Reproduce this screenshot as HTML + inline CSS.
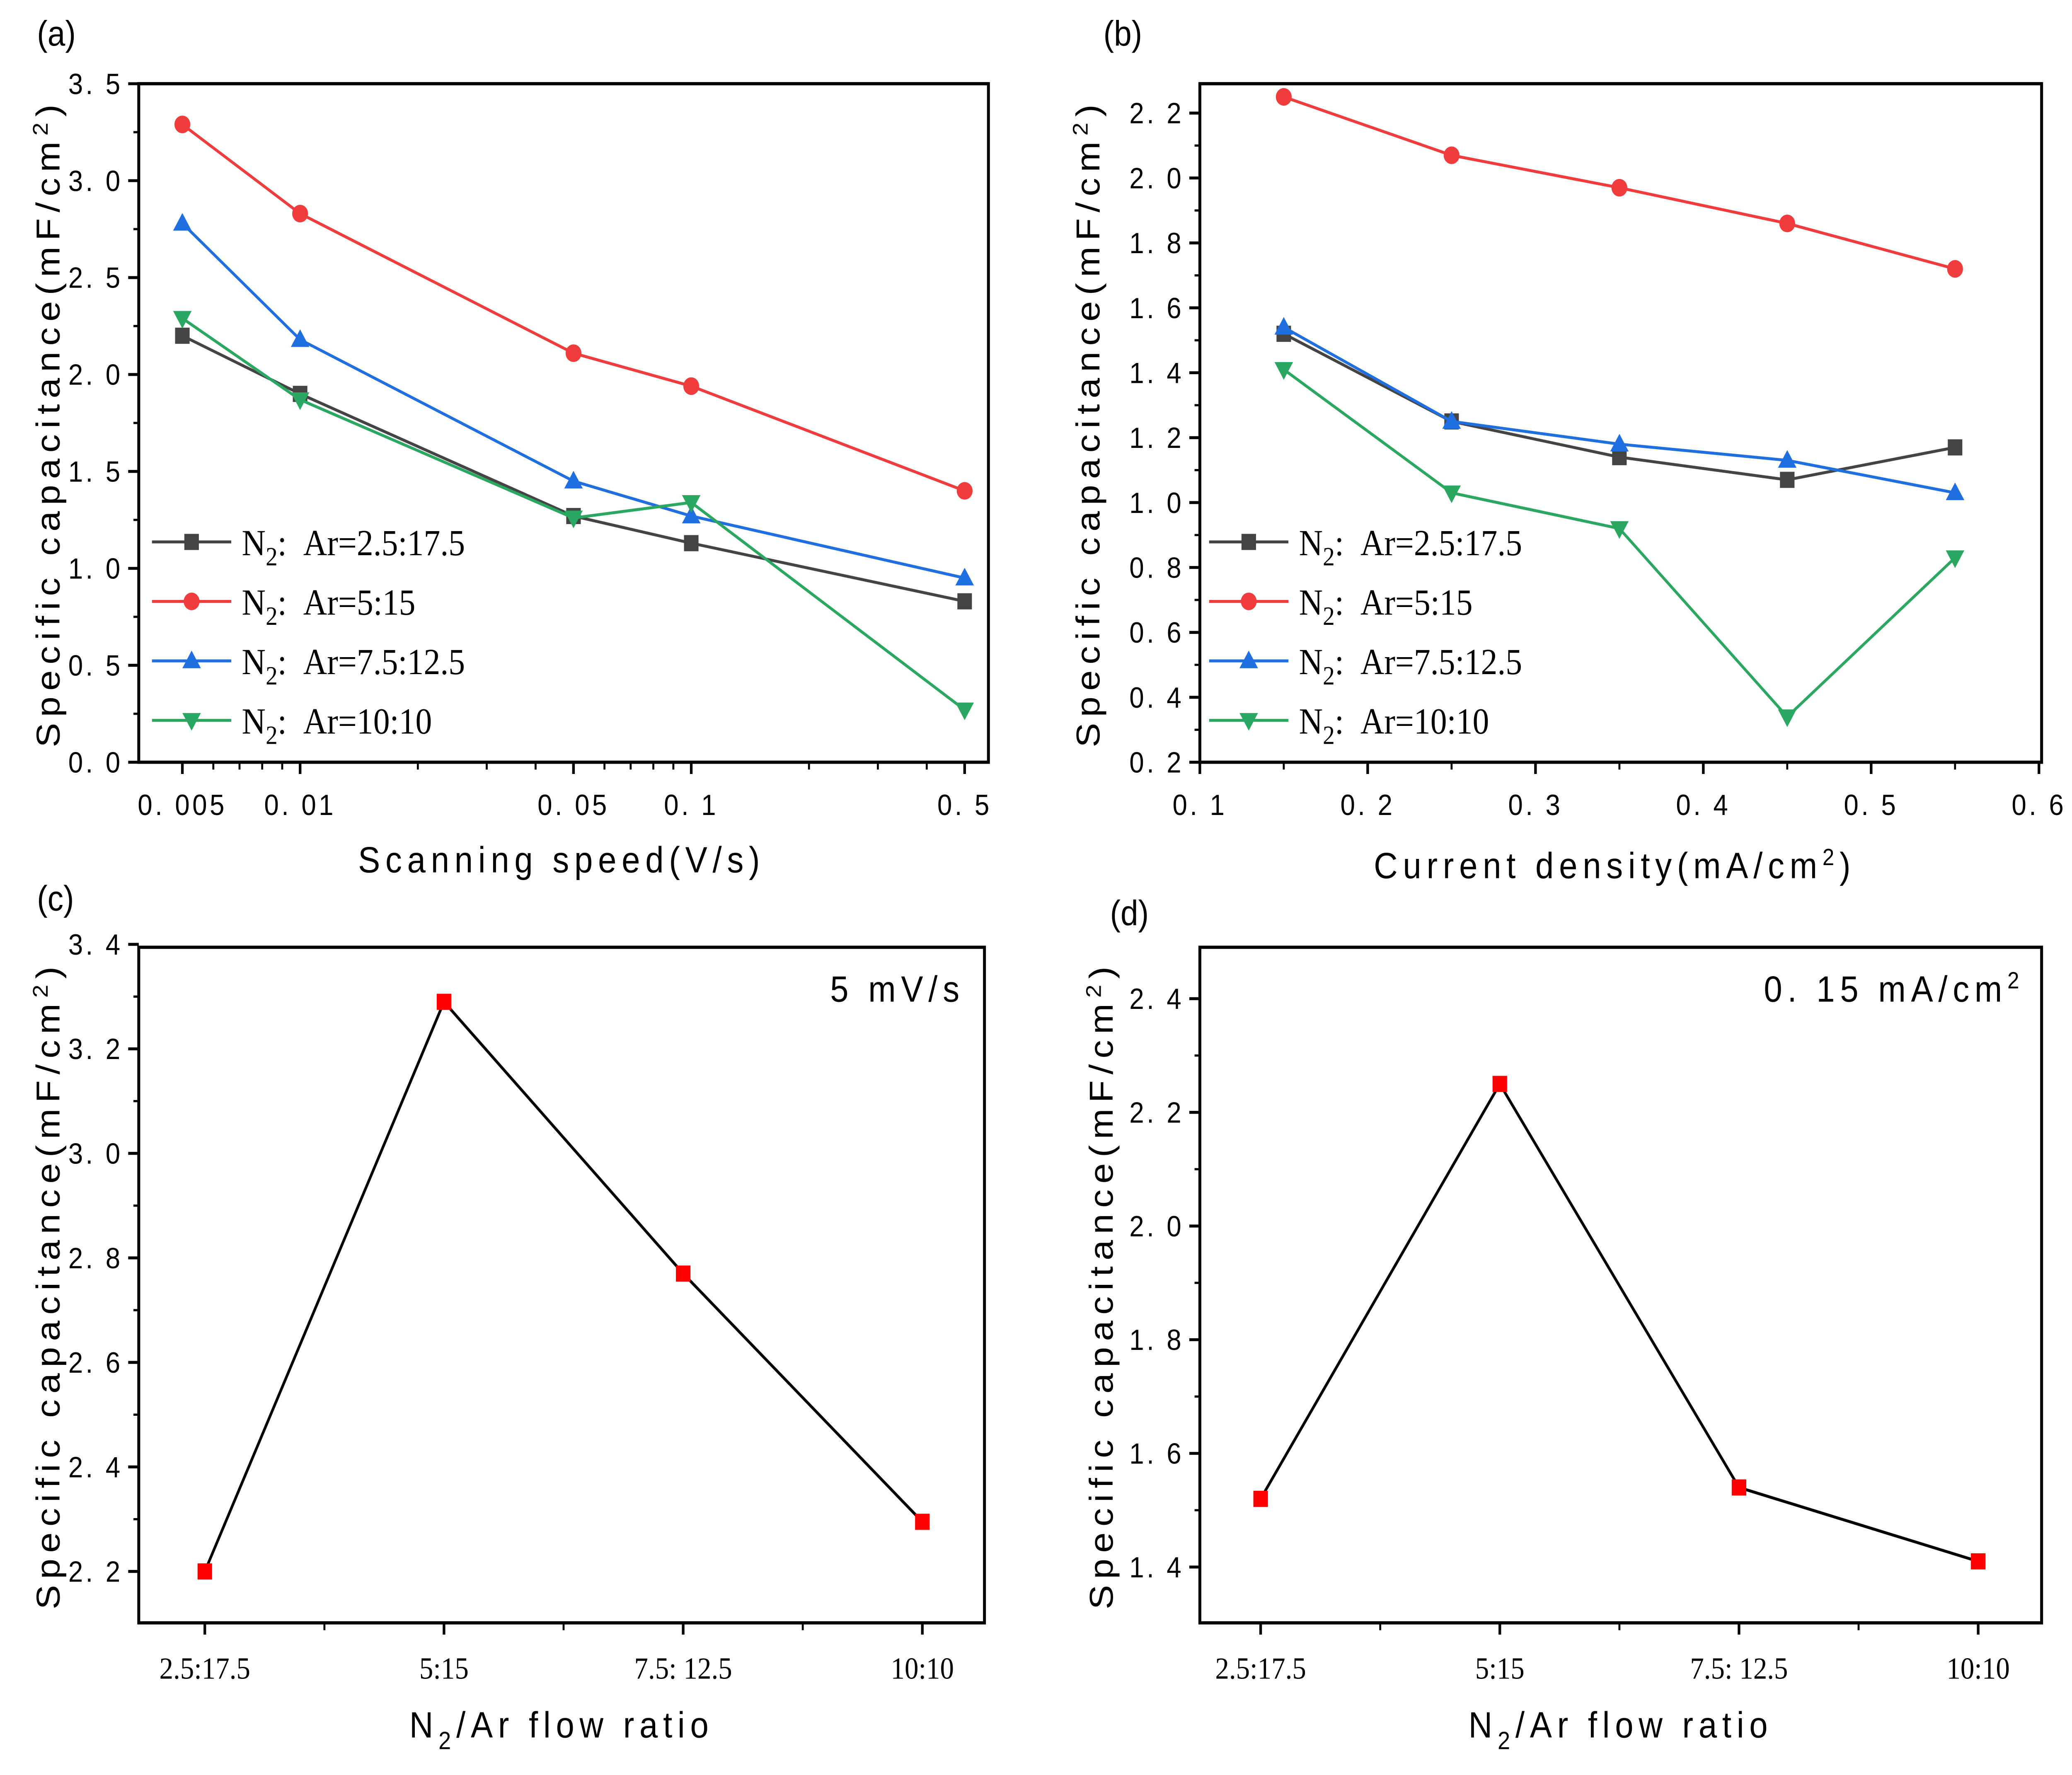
<!DOCTYPE html>
<html><head><meta charset="utf-8"><style>
html,body{margin:0;padding:0;background:#fff;width:100%;height:100%;overflow:hidden}
svg{display:block;width:100vw;height:100vh}
text{font-family:"Liberation Sans","Noto Sans CJK SC",sans-serif;fill:#000}
.tk{font-size:20px;letter-spacing:2px}
.ti{font-size:25px;letter-spacing:4px}
.lg{font-family:"Liberation Serif","Noto Serif CJK SC",serif;font-size:25px}
.pl{font-size:24px}
</style></head><body>
<svg id="fig" viewBox="0 0 1568 1208.6" preserveAspectRatio="none" xmlns="http://www.w3.org/2000/svg"></svg>
<script>
const NS="http://www.w3.org/2000/svg";
const svg=document.getElementById('fig');
// panel (a)
const aX=[0.005,0.01,0.05,0.1,0.5];
const aBlack=[2.2,1.9,1.27,1.13,0.83];
const aRed=[3.29,2.83,2.11,1.94,1.40];
const aBlue=[2.78,2.18,1.45,1.27,0.95];
const aGreen=[2.29,1.87,1.26,1.34,0.27];
const aXTicks=[0.005,0.01,0.05,0.1,0.5];
const aXTickLabels=["0. 005","0. 01","0. 05","0. 1","0. 5"];
const aYTicks=[0,0.5,1,1.5,2,2.5,3,3.5];
// panel (b)
const bX=[0.15,0.25,0.35,0.45,0.55];
const bBlack=[1.52,1.25,1.14,1.07,1.17];
const bRed=[2.25,2.07,1.97,1.86,1.72];
const bBlue=[1.54,1.25,1.18,1.13,1.03];
const bGreen=[1.41,1.03,0.92,0.34,0.83];
const bXTicks=[0.1,0.2,0.3,0.4,0.5,0.6];
const bYTicks=[0.2,0.4,0.6,0.8,1.0,1.2,1.4,1.6,1.8,2.0,2.2];
// panel (c)
const cCats=["2.5:17.5","5:15","7.5: 12.5","10:10"];
const cVals=[2.2,3.29,2.77,2.295];
const cYTicks=[2.2,2.4,2.6,2.8,3.0,3.2,3.4];
// panel (d)
const dCats=["2.5:17.5","5:15","7.5: 12.5","10:10"];
const dVals=[1.52,2.25,1.54,1.41];
const dYTicks=[1.4,1.6,1.8,2.0,2.2,2.4];
const legendLabels=["Ar=2.5:17.5","Ar=5:15","Ar=7.5:12.5","Ar=10:10"];

function el(tag,attrs,parent){const e=document.createElementNS(NS,tag);for(const k in attrs)e.setAttribute(k,attrs[k]);(parent||svg).appendChild(e);return e;}
function txt(s,x,y,cls,anchor,parent){const t=el('text',{x:x,y:y,class:cls,'text-anchor':anchor||'middle'},parent);t.textContent=s;return t;}
function lin(a0,a1,p0,p1){return v=>p0+(v-a0)/(a1-a0)*(p1-p0);}

function marker(g,type,x,y,c){
  let m;
  if(type==='sq') m=el('rect',{x:x-5.5,y:y-5.5,width:11,height:11,fill:c},g);
  else if(type==='ci') m=el('circle',{cx:x,cy:y,r:6,fill:c},g);
  else if(type==='up') m=el('polygon',{points:`${x},${y-7} ${x-7},${y+5} ${x+7},${y+5}`,fill:c},g);
  else m=el('polygon',{points:`${x},${y+7} ${x-7},${y-5} ${x+7},${y-5}`,fill:c},g);
  
  
}
function series(g,xs,ys,sx,sy,c,type,name){
  const sg=el('g',{},g);
  
  
  el('polyline',{points:xs.map((v,i)=>sx(v)+','+sy(ys[i])).join(' '),fill:'none',stroke:c,'stroke-width':2},sg);
  xs.forEach((v,i)=>marker(sg,type,sx(v),sy(ys[i]),c));
}
function frame(g,x0,y0,x1,y1){
  const f=el('rect',{x:x0,y:y0,width:x1-x0,height:y1-y0,fill:'none',stroke:'#000','stroke-width':2.2},g);
  
}
function yaxis(g,ticks,sy,x0,fmt,minor){
  ticks.forEach((v,i)=>{
    el('line',{x1:x0-8,x2:x0,y1:sy(v),y2:sy(v),stroke:'#000','stroke-width':2},g);
    const t=txt(fmt(v),x0-12,sy(v)+7,'tk','end',g);
    
    if(minor&&i<ticks.length-1){const m=(v+ticks[i+1])/2;el('line',{x1:x0-4,x2:x0,y1:sy(m),y2:sy(m),stroke:'#000','stroke-width':1.5},g);}
  });
}
function ytitle(g,x,y){
  const t=el('text',{x:0,y:0,class:'ti','text-anchor':'middle',transform:`translate(${x},${y}) rotate(-90)`},g);
  t.innerHTML='Specific capacitance(mF/cm<tspan dy="-9" font-size="16">2</tspan><tspan dy="9">)</tspan>';
  
}
function legend(g,x,y){
  const cols=['#444','#f03c3c','#1f6fe0','#2aa760'];const ty=['sq','ci','up','dn'];
  const lg=el('g',{},g);
  legendLabels.forEach((l,i)=>{
    const yy=y+i*40.5;
    const e=el('g',{},lg);
    el('line',{x1:x,x2:x+60,y1:yy,y2:yy,stroke:cols[i],'stroke-width':2},e);
    marker(e,ty[i],x+30,yy,cols[i]);
    const t=el('text',{x:x+68,y:yy+9,class:'lg'},e);
    t.innerHTML='N<tspan dy="7" font-size="18">2</tspan><tspan dy="-7">:&#160;&#160;'+l+'</tspan>';
  });
}
function plabel(s,x,y){const t=txt(s,x,y,'pl','start');}

// ---- (a)
{
const g=el('g',{});
const x0=105,x1=748,y0=57,y1=519;
const sx=v=>138+296*Math.log10(v/0.005);
const sy=lin(0,3.5,519,57);
frame(g,x0,y0,x1,y1);
yaxis(g,aYTicks,sy,x0,v=>v.toFixed(1).replace('.','. '),true);
aXTicks.forEach((v,i)=>{el('line',{x1:sx(v),x2:sx(v),y1:y1,y2:y1+8,stroke:'#000','stroke-width':2},g);
  const t=txt(aXTickLabels[i],sx(v),y1+36,'tk','middle',g);});
[0.006,0.007,0.008,0.009,0.02,0.03,0.04,0.06,0.07,0.08,0.09,0.2,0.3,0.4].forEach(v=>el('line',{x1:sx(v),x2:sx(v),y1:y1,y2:y1+5,stroke:'#000','stroke-width':1.5},g));
series(g,aX,aBlack,sx,sy,'#444','sq','series-2.5-17.5');
series(g,aX,aRed,sx,sy,'#f03c3c','ci','series-5-15');
series(g,aX,aBlue,sx,sy,'#1f6fe0','up','series-7.5-12.5');
series(g,aX,aGreen,sx,sy,'#2aa760','dn','series-10-10');
legend(g,115,369);
ytitle(g,45,288);
const xt=txt('Scanning speed(V/s)',425,594,'ti','middle',g);
plabel('(a)',28,31);
}
// ---- (b)
{
const g=el('g',{});
const x0=908,x1=1545,y0=57,y1=519;
const sx=lin(0.1,0.6,908,1543);
const sy=lin(0.2,2.2,519,77);
frame(g,x0,y0,x1,y1);
yaxis(g,bYTicks,sy,x0,v=>v.toFixed(1).replace('.','. '),true);
bXTicks.forEach((v,i)=>{el('line',{x1:sx(v),x2:sx(v),y1:y1,y2:y1+8,stroke:'#000','stroke-width':2},g);
  const t=txt(v.toFixed(1).replace('.','. '),sx(v),y1+36,'tk','middle',g);
  if(i<bXTicks.length-1){const m=(v+bXTicks[i+1])/2;el('line',{x1:sx(m),x2:sx(m),y1:y1,y2:y1+5,stroke:'#000','stroke-width':1.5},g);}});
series(g,bX,bBlack,sx,sy,'#444','sq','series-2.5-17.5');
series(g,bX,bRed,sx,sy,'#f03c3c','ci','series-5-15');
series(g,bX,bBlue,sx,sy,'#1f6fe0','up','series-7.5-12.5');
series(g,bX,bGreen,sx,sy,'#2aa760','dn','series-10-10');
legend(g,915,369);
ytitle(g,832,288);
const xt=el('text',{x:1222,y:598,class:'ti','text-anchor':'middle'},g);
xt.innerHTML='Current density(mA/cm<tspan dy="-9" font-size="16">2</tspan><tspan dy="9">)</tspan>';

plabel('(b)',835,31);
}
// ---- (c),(d)
function catPanel(name,cats,vals,yt,x0,x1,y0,y1,sy,xpos,ann,tx,lab,lx,ly,ytx){
  const g=el('g',{});
  const sx=i=>xpos[0]+i*(xpos[1]-xpos[0]);
  frame(g,x0,y0,x1,y1);
  yaxis(g,yt,sy,x0,v=>v.toFixed(1).replace('.','. '),true);
  cats.forEach((c,i)=>{el('line',{x1:sx(i),x2:sx(i),y1:y1,y2:y1+8,stroke:'#000','stroke-width':2},g);
    if(i<cats.length-1){const m=sx(i+0.5);el('line',{x1:m,x2:m,y1:y1,y2:y1+5,stroke:'#000','stroke-width':1.5},g);}
    const t=el('text',{x:sx(i),y:y1+38,class:'lg','text-anchor':'middle'},g);t.style.fontSize='21px';t.textContent=c;
    });
  const idx=cats.map((c,i)=>i);
  const s=el('g',{},g);
  el('polyline',{points:idx.map(i=>sx(i)+','+sy(vals[i])).join(' '),fill:'none',stroke:'#000','stroke-width':2},s);
  idx.forEach(i=>{const r=el('rect',{x:sx(i)-5.5,y:sy(vals[i])-5.5,width:11,height:11,fill:'#f00'},s);
    });
  const a=el('text',{x:tx,y:y0+37,class:'ti','text-anchor':'end'},g);a.innerHTML=ann;
  
  ytitle(g,ytx,(y0+y1)/2);
  const xt=el('text',{x:(x0+x1)/2,y:y1+78,class:'ti','text-anchor':'middle'},g);
  xt.innerHTML='N<tspan dy="8" font-size="17">2</tspan><tspan dy="-8">/Ar flow ratio</tspan>';
  
  plabel(lab,lx,ly);
}
catPanel('panel-c',cCats,cVals,cYTicks,105,745,645,1105,lin(2.2,3.4,1070,643),[155,336],'5 mV/s',730,'(c)',28,620,45);
catPanel('panel-d',dCats,dVals,dYTicks,908,1545,645,1105,lin(1.4,2.4,1067,680),[954,1135],'0. 15 mA/cm<tspan dy="-9" font-size="16">2</tspan>',1532,'(d)',840,630,842);
</script>
</body></html>
